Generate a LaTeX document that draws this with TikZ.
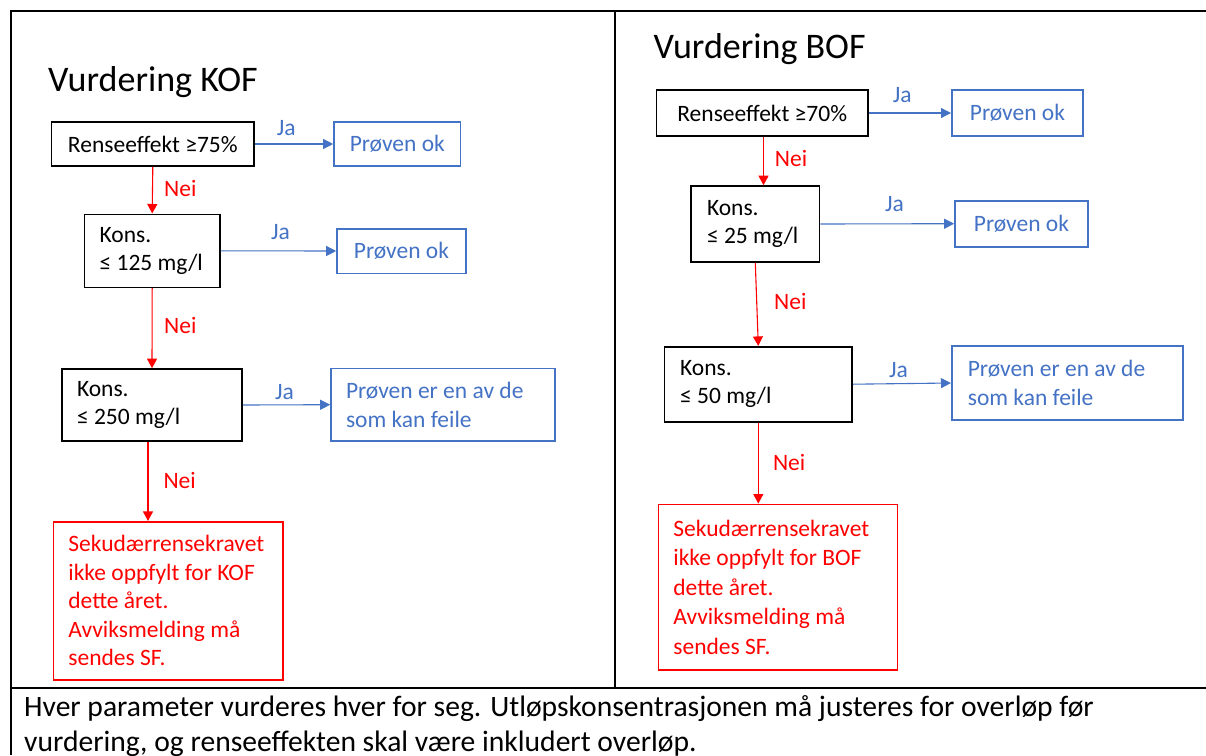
\documentclass[tikz,border=0pt]{standalone}
\usepackage{fontspec}
\setmainfont{Carlito}
\usetikzlibrary{arrows.meta}
\definecolor{VurdBlue}{HTML}{4472C4}
\definecolor{VurdRed}{HTML}{FF0000}

\begin{document}
\begin{tikzpicture}[
    x=1pt, y=-1pt,
    txt/.style={font=\fontsize{23.5}{28.5}\selectfont},
    cond/.style={txt, draw=black, line width=1.6pt, inner sep=0pt, align=center},
    okbox/.style={txt, draw=VurdBlue, text=VurdBlue, line width=1.6pt, inner sep=0pt, align=center},
    failbox/.style={txt, draw=VurdRed, text=VurdRed, line width=1.6pt, inner sep=0pt, align=flush left},
    jaarrow/.style={-{Triangle[length=10pt,width=10pt]}, line width=1.1pt, draw=VurdBlue},
    neiarrow/.style={-{Triangle[length=9.5pt,width=10pt]}, line width=1.1pt, draw=VurdRed},
    jalabel/.style={txt, text=VurdBlue, anchor=base west, inner sep=0pt},
    neilabel/.style={txt, text=VurdRed, anchor=base west, inner sep=0pt},
    heading/.style={font=\fontsize{36}{43}\selectfont, anchor=base west, inner sep=0pt},
    frame/.style={line width=2pt, draw=black},
    note/.style={font=\fontsize{29.6}{36}\selectfont, anchor=base west, inner sep=0pt}
  ]
    \useasboundingbox (0,0) rectangle (1206,755);

    % table frame
    \draw[frame] (10.7,755) -- (10.7,11) -- (1206,11);
    \draw[frame] (615,11) -- (615,687.7);
    \draw[frame] (10.7,687.7) -- (1206,687.7);

    % KOF
    \node[heading] (kofhead) at (48,91.7) {Vurdering KOF};
    \node[cond, minimum width=202.8pt, minimum height=44pt] (r1) at (152.8,144) {Renseeffekt ≥75\%};
    \node[okbox, minimum width=126.6pt, minimum height=44pt] (p1) at (397.3,144) {Prøven ok};
    \node[cond, minimum width=135.2pt, minimum height=73pt, text width=105.2pt, inner xsep=15pt, align=flush left] (k1) at (152.2,250.8) {Kons.\\≤~125~mg/l};
    \node[okbox, minimum width=128.8pt, minimum height=44.6pt] (p2) at (401.4,251) {Prøven ok};
    \node[cond, minimum width=180pt, minimum height=72pt, text width=150pt, inner xsep=15pt, align=flush left] (k2) at (152,405) {Kons.\\≤~250~mg/l};
    \node[okbox, minimum width=224pt, minimum height=72.7pt, text width=194pt, inner xsep=15pt, align=flush left] (p3) at (443,404.7) {Prøven er en av de\\som kan feile};
    \node[failbox, minimum width=229.6pt, minimum height=158.3pt, text width=199.6pt, inner xsep=15pt] (s1) at (168.2,600.9) {Sekudærrensekravet\\ikke oppfylt for KOF\\dette året.\\Avviksmelding må\\sendes SF.};

    \draw[jaarrow] (r1.east) -- (p1.west);
    \draw[jaarrow] (k1.east) -- (p2.west);
    \draw[jaarrow] (k2.east) -- (p3.west);
    \draw[neiarrow] (r1.south) -- (k1.north);
    \draw[neiarrow] (k1.south) -- (k2.north);
    \draw[neiarrow] ([xshift=-4pt]k2.south) -- ([xshift=-4pt]k2.south |- s1.north);

    \node[jalabel] (ja1) at (276.7,135) {Ja};
    \node[jalabel] (ja2) at (270.8,239.3) {Ja};
    \node[jalabel] (ja3) at (274.8,399.3) {Ja};
    \node[neilabel] (nei1) at (164,196.7) {Nei};
    \node[neilabel] (nei2) at (164,333.3) {Nei};
    \node[neilabel] (nei3) at (163.3,488.3) {Nei};

    % BOF
    \node[heading] (bofhead) at (653.3,58.3) {Vurdering BOF};
    \node[cond, minimum width=211.5pt, minimum height=46pt] (r2) at (762.2,113) {Renseeffekt ≥70\%};
    \node[okbox, minimum width=131.2pt, minimum height=46pt] (p4) at (1017.4,113) {Prøven ok};
    \node[cond, minimum width=128.6pt, minimum height=76pt, text width=96.6pt, inner xsep=16pt, align=flush left] (k3) at (755.3,224) {Kons.\\≤~25~mg/l};
    \node[okbox, minimum width=132.9pt, minimum height=46pt] (p5) at (1021.4,223.7) {Prøven ok};
    \node[cond, minimum width=187.4pt, minimum height=75pt, text width=156.4pt, inner xsep=15.5pt, align=flush left] (k4) at (758.3,384.2) {Kons.\\≤~50~mg/l};
    \node[okbox, minimum width=231.2pt, minimum height=74pt, text width=199.2pt, inner xsep=16pt, align=flush left] (p6) at (1067.4,383) {Prøven er en av de\\som kan feile};
    \node[failbox, minimum width=239.2pt, minimum height=165.7pt, text width=209.2pt, inner xsep=15pt, font=\fontsize{23.5}{29.5}\selectfont] (s2) at (778,587.2) {Sekudærrensekravet\\ikke oppfylt for BOF\\dette året.\\Avviksmelding må\\sendes SF.};

    \draw[jaarrow] (r2.east) -- (p4.west);
    \draw[jaarrow] (k3.east) -- (p5.west);
    \draw[jaarrow] (k4.east) -- (p6.west);
    \draw[neiarrow] ([xshift=1.3pt]r2.south) -- ([xshift=1.3pt]r2.south |- k3.north);
    \draw[neiarrow] (k3.south) -- (k4.north);
    \draw[neiarrow] (k4.south) -- (k4.south |- s2.north);

    \node[jalabel] (ja4) at (892.6,102.7) {Ja};
    \node[jalabel] (ja5) at (884.9,211.7) {Ja};
    \node[jalabel] (ja6) at (889,377.7) {Ja};
    \node[neilabel] (nei4) at (774.7,166.7) {Nei};
    \node[neilabel] (nei5) at (774,309) {Nei};
    \node[neilabel] (nei6) at (772.8,470) {Nei};

    % note row
    \node[note] (note1) at (24,716.5) {Hver parameter vurderes hver for seg. Utløpskonsentrasjonen må justeres for overløp før};
    \node[note] (note2) at (24,751.5) {vurdering, og renseeffekten skal være inkludert overløp.};
  \end{tikzpicture}
\end{document}
